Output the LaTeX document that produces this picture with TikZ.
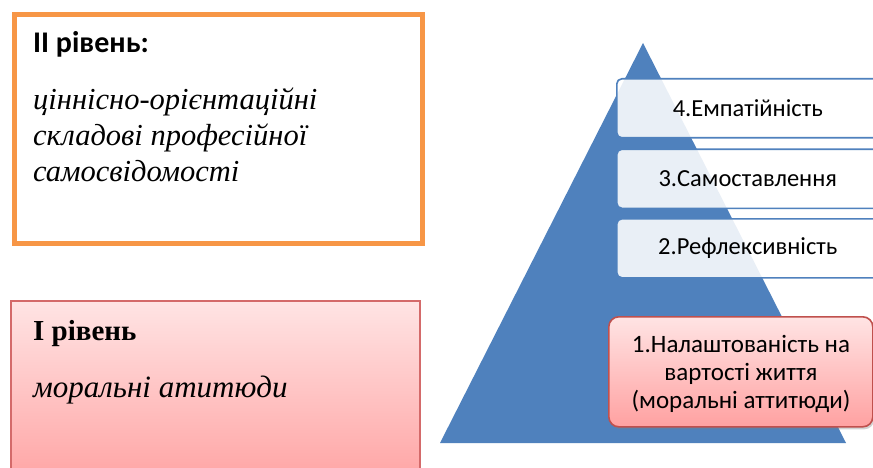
\documentclass[tikz,border=0pt]{standalone}
\usepackage{fontspec}
\setmainfont{Liberation Serif}
\newfontfamily\calib{Carlito}
\usetikzlibrary{shadows}
\definecolor{pyr}{HTML}{4F81BD}
\definecolor{orng}{HTML}{F79646}
\definecolor{pinkline}{HTML}{D46A6A}
\definecolor{redline}{HTML}{C0504D}
\definecolor{pinktop}{HTML}{FFE4E4}
\definecolor{pinkbot}{HTML}{FFA1A1}
\tikzset{
  lvltwo/.style={draw=orng, line width=5pt, fill=white, anchor=north west, inner sep=0pt},
  lvlone/.style={draw=pinkline, line width=1.8pt, top color=pinktop, bottom color=pinkbot, anchor=north west, inner sep=0pt},
  bluebox/.style={draw=pyr, line width=1.6pt, fill=white, fill opacity=0.88, text opacity=1, rounded corners=5pt,
     anchor=north west, minimum width=262pt, minimum height=59pt, inner sep=0pt, font=\calib\fontsize{24.5}{28}\selectfont},
  redbox/.style={draw=redline, line width=1.6pt, top color=pinktop, bottom color=pinkbot, rounded corners=10pt,
     anchor=north west, minimum width=264pt, minimum height=110pt, inner sep=0pt,
     drop shadow={opacity=0.35, shadow xshift=1.5pt, shadow yshift=-2.5pt}},
  redtext/.style={anchor=base, inner sep=0pt, font=\calib\fontsize{25}{28}\selectfont},
  head/.style={anchor=base west, inner sep=0pt},
  body/.style={anchor=base west, inner sep=0pt}
}
\begin{document}
\begin{tikzpicture}[x=1pt,y=-1pt]
\useasboundingbox (0,0) rectangle (873,468);
\clip (0,0) rectangle (873,468);
\fill[white] (0,0) rectangle (873,468);

% level II box
\node[lvltwo, minimum width=408pt, minimum height=228.5pt] (L2) at (11.5,12) {};
\node[head, font=\calib\bfseries\fontsize{30}{34}\selectfont] (L2h) at (33,53) {ІІ рівень:};
\begin{scope}[every node/.append style={body, font=\itshape\fontsize{30.5}{36}\selectfont}]
\node (L2a) at (33,110) {ціннісно-орієнтаційні};
\node (L2b) at (33,146) {складові професійної};
\node (L2c) at (33,182) {самосвідомості};
\end{scope}

% level I box
\node[lvlone, minimum width=409pt, minimum height=190pt] (L1) at (10,300) {};
\node[head, font=\bfseries\fontsize{29}{34}\selectfont] (L1h) at (33,340) {І рівень};
\node[body, font=\itshape\fontsize{31}{36}\selectfont] (L1b) at (33,397) {моральні атитюди};

% pyramid
\fill[pyr] (643,43) -- (846,443) -- (440,443) -- cycle;

% boxes
\node[bluebox] (b4) at (616,78) {4.Емпатійність};
\node[bluebox] (b3) at (616,148.5) {3.Самоставлення};
\node[bluebox] (b2) at (616,218) {2.Рефлексивність};
\node[redbox] (b1) at (608,316) {};
\node[redtext] (b1a) at (741,352) {1.Налаштованість на};
\node[redtext] (b1b) at (741,380) {вартості життя};
\node[redtext] (b1c) at (741,408) {(моральні аттитюди)};
\end{tikzpicture}
\end{document}
